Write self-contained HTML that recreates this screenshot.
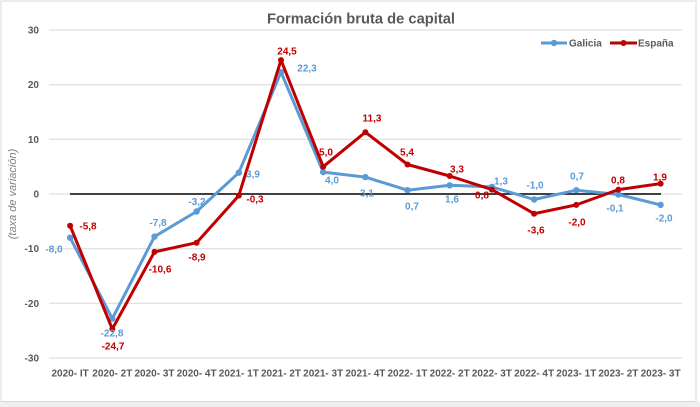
<!DOCTYPE html>
<html><head><meta charset="utf-8"><style>
html,body{margin:0;padding:0;background:#fff;}
svg{display:block;font-family:"Liberation Sans",sans-serif;}
</style></head><body>
<svg width="700" height="407" viewBox="0 0 700 407" xmlns="http://www.w3.org/2000/svg">
<rect x="0" y="0" width="700" height="407" fill="#fff"/>
<rect x="0" y="402" width="700" height="5" fill="#efefef"/>
<rect x="1" y="1" width="695" height="400.5" fill="#fff" stroke="#d9d9d9" stroke-width="1"/>
<!-- title -->
<text x="361" y="23.5" text-anchor="middle" font-size="15" font-weight="bold" fill="#595959" textLength="188" lengthAdjust="spacingAndGlyphs">Formación bruta de capital</text>
<!-- gridlines -->
<g stroke="#d9d9d9" stroke-width="1">
<line x1="49" y1="30" x2="682" y2="30"/>
<line x1="49" y1="84.7" x2="682" y2="84.7"/>
<line x1="49" y1="139.3" x2="682" y2="139.3"/>
<line x1="49" y1="194" x2="682" y2="194"/>
<line x1="49" y1="248.7" x2="682" y2="248.7"/>
<line x1="49" y1="303.3" x2="682" y2="303.3"/>
<line x1="49" y1="358" x2="682" y2="358"/>
</g>
<line x1="70" y1="194" x2="661" y2="194" stroke="#000" stroke-width="1.5"/>
<!-- y ticks -->
<g font-size="10" font-weight="bold" fill="#595959" text-anchor="end">
<text x="39" y="33.5">30</text>
<text x="39" y="88.2">20</text>
<text x="39" y="142.8">10</text>
<text x="39" y="197.5">0</text>
<text x="39" y="252.2">-10</text>
<text x="39" y="306.8">-20</text>
<text x="39" y="361.5">-30</text>
</g>
<text transform="translate(16,194) rotate(-90)" text-anchor="middle" font-size="11" font-style="italic" fill="#7f7f7f">(taxa de variación)</text>
<!-- x labels -->
<g font-size="10" font-weight="bold" fill="#595959" text-anchor="middle">
<text x="70.1" y="376.5">2020- IT</text>
<text x="112.3" y="376.5">2020- 2T</text>
<text x="154.5" y="376.5">2020- 3T</text>
<text x="196.6" y="376.5">2020- 4T</text>
<text x="238.8" y="376.5">2021- 1T</text>
<text x="281.0" y="376.5">2021- 2T</text>
<text x="323.2" y="376.5">2021- 3T</text>
<text x="365.4" y="376.5">2021- 4T</text>
<text x="407.5" y="376.5">2022- 1T</text>
<text x="449.7" y="376.5">2022- 2T</text>
<text x="491.9" y="376.5">2022- 3T</text>
<text x="534.1" y="376.5">2022- 4T</text>
<text x="576.3" y="376.5">2023- 1T</text>
<text x="618.4" y="376.5">2023- 2T</text>
<text x="660.6" y="376.5">2023- 3T</text>
</g>
<!-- Galicia -->
<polyline fill="none" stroke="#5B9BD5" stroke-width="3" stroke-linejoin="round" points="70.1,237.7 112.3,318.6 154.5,236.6 196.6,211.5 238.8,172.7 281.0,72.1 323.2,172.1 365.4,177.1 407.5,190.2 449.7,185.3 491.9,186.9 534.1,199.5 576.3,190.2 618.4,194.5 660.6,204.9"/>
<g fill="#5B9BD5">
<circle cx="70.1" cy="237.7" r="3.2"/><circle cx="112.3" cy="318.6" r="3.2"/><circle cx="154.5" cy="236.6" r="3.2"/><circle cx="196.6" cy="211.5" r="3.2"/><circle cx="238.8" cy="172.7" r="3.2"/><circle cx="281.0" cy="72.1" r="3.2"/><circle cx="323.2" cy="172.1" r="3.2"/><circle cx="365.4" cy="177.1" r="3.2"/><circle cx="407.5" cy="190.2" r="3.2"/><circle cx="449.7" cy="185.3" r="3.2"/><circle cx="491.9" cy="186.9" r="3.2"/><circle cx="534.1" cy="199.5" r="3.2"/><circle cx="576.3" cy="190.2" r="3.2"/><circle cx="618.4" cy="194.5" r="3.2"/><circle cx="660.6" cy="204.9" r="3.2"/>
</g>
<!-- España -->
<polyline fill="none" stroke="#C00000" stroke-width="3" stroke-linejoin="round" points="70.1,225.7 112.3,329.0 154.5,251.9 196.6,242.7 238.8,195.6 281.0,60.1 323.2,166.7 365.4,132.2 407.5,164.5 449.7,176.0 491.9,189.6 534.1,213.7 576.3,204.9 618.4,189.6 660.6,183.6"/>
<g fill="#C00000">
<circle cx="70.1" cy="225.7" r="3"/><circle cx="112.3" cy="329.0" r="3"/><circle cx="154.5" cy="251.9" r="3"/><circle cx="196.6" cy="242.7" r="3"/><circle cx="238.8" cy="195.6" r="3"/><circle cx="281.0" cy="60.1" r="3"/><circle cx="323.2" cy="166.7" r="3"/><circle cx="365.4" cy="132.2" r="3"/><circle cx="407.5" cy="164.5" r="3"/><circle cx="449.7" cy="176.0" r="3"/><circle cx="491.9" cy="189.6" r="3"/><circle cx="534.1" cy="213.7" r="3"/><circle cx="576.3" cy="204.9" r="3"/><circle cx="618.4" cy="189.6" r="3"/><circle cx="660.6" cy="183.6" r="3"/>
</g>
<!-- Galicia labels -->
<g font-size="10" font-weight="bold" fill="#5B9BD5" text-anchor="middle">
<text x="54" y="252.5">-8,0</text>
<text x="112" y="336.5">-22,8</text>
<text x="158" y="226">-7,8</text>
<text x="197" y="205">-3,2</text>
<text x="253" y="177.5">3,9</text>
<text x="307" y="71.5">22,3</text>
<text x="332" y="183.5">4,0</text>
<text x="367" y="196.5">3,1</text>
<text x="412" y="209.5">0,7</text>
<text x="452" y="202.5">1,6</text>
<text x="501" y="184.5">1,3</text>
<text x="535" y="188.5">-1,0</text>
<text x="577" y="179.5">0,7</text>
<text x="615" y="211.5">-0,1</text>
<text x="664" y="221.5">-2,0</text>
</g>
<!-- España labels -->
<g font-size="10" font-weight="bold" fill="#C00000" text-anchor="middle">
<text x="88" y="229.5">-5,8</text>
<text x="113" y="349.5">-24,7</text>
<text x="160" y="272.5">-10,6</text>
<text x="197" y="260.5">-8,9</text>
<text x="255" y="202.5">-0,3</text>
<text x="287" y="54.5">24,5</text>
<text x="326" y="155.5">5,0</text>
<text x="372" y="121.5">11,3</text>
<text x="407" y="155.5">5,4</text>
<text x="457" y="172.5">3,3</text>
<text x="482" y="198.5">0,8</text>
<text x="536" y="233.5">-3,6</text>
<text x="577" y="225.5">-2,0</text>
<text x="618" y="183.5">0,8</text>
<text x="660" y="180.5">1,9</text>
</g>
<!-- legend -->
<line x1="541" y1="43" x2="567" y2="43" stroke="#5B9BD5" stroke-width="3"/>
<circle cx="554" cy="43" r="3.2" fill="#5B9BD5"/>
<text x="569" y="46.5" font-size="10" font-weight="bold" fill="#595959">Galicia</text>
<line x1="610" y1="43" x2="637" y2="43" stroke="#C00000" stroke-width="3"/>
<circle cx="623.5" cy="43" r="3" fill="#C00000"/>
<text x="638" y="46.5" font-size="10" font-weight="bold" fill="#595959">España</text>
</svg>
</body></html>
